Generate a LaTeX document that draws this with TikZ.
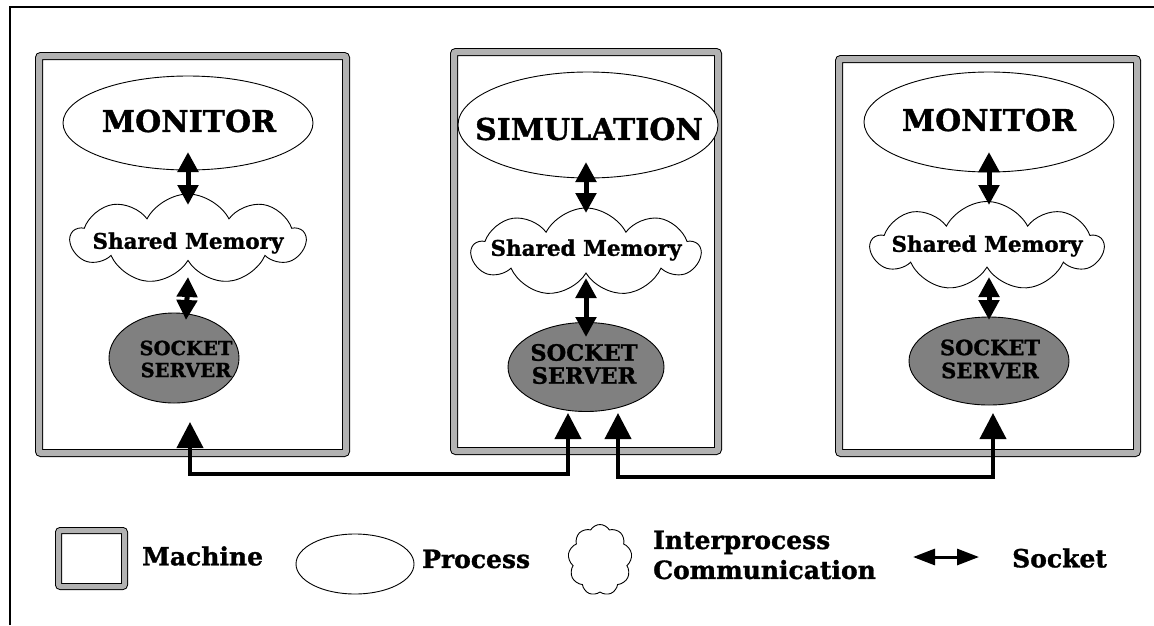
\documentclass[tikz,border=0pt]{standalone}
\usepackage{fontspec}
\setmainfont{DejaVu Serif}[BoldFeatures={FakeBold=1.2}]
\usetikzlibrary{shapes.geometric,shapes.symbols,arrows.meta,calc}

\begin{document}
\begin{tikzpicture}[x=1pt,y=-1pt,
  machine/.style={draw=black, line width=1pt, double=black!30, double distance=6pt,
    inner sep=0pt, outer sep=0pt, rounded corners=2pt},
  proc/.style={ellipse, draw=black, line width=0.9pt, fill=white, inner sep=0pt},
  ipc/.style={cloud, draw=black, line width=0.9pt, fill=white, cloud puffs=9,
    cloud puff arc=125, aspect=2.4, inner sep=0pt},
  sockproc/.style={ellipse, draw=black, line width=0.9pt, fill=black!50, inner sep=0pt},
  bigtxt/.style={font=\bfseries\fontsize{30}{34}\selectfont, inner sep=0pt},
  memtxt/.style={font=\bfseries\fontsize{21.5}{24}\selectfont, inner sep=0pt},
  socktxt/.style={font=\bfseries\fontsize{19.5}{22}\selectfont, align=center, inner sep=0pt},
  legtxt/.style={font=\bfseries\fontsize{25}{30}\selectfont, align=left, anchor=west, inner sep=0pt},
  link/.style={line width=5pt, {Triangle[length=20pt,width=20pt]}-{Triangle[length=20pt,width=20pt]}},
  net/.style={line width=4pt, line join=miter, {Triangle[length=26pt,width=26pt]}-{Triangle[length=26pt,width=26pt]}},
  legarrow/.style={line width=3pt, {Triangle[length=22pt,width=16pt]}-{Triangle[length=22pt,width=16pt]}},
]
\useasboundingbox (0,0) rectangle (1154,625);

% page frame (top and left rules)
\draw[line width=1.5pt] (10,625) -- (10,7) -- (1154,7);

% machines
\node[machine, minimum width=307pt, minimum height=397pt] (mach1) at (192.5,254.5) {};
\node[machine, minimum width=264pt, minimum height=399pt] (mach2) at (586,251.5) {};
\node[machine, minimum width=298pt, minimum height=394pt] (mach3) at (988,256) {};

% socket network below the machines
\coordinate (n1) at (190,474);
\coordinate (n2) at (568,474);
\coordinate (n3) at (618,477);
\coordinate (n4) at (993,477);
\coordinate (t1) at (190,422);
\coordinate (t2) at (568,413);
\coordinate (t3) at (618,413);
\coordinate (t4) at (993,413);
\draw[net] (t1) -- (n1) -- (n2) -- (t2);
\draw[net] (t3) -- (n3) -- (n4) -- (t4);

% machine 1
\node[proc, minimum width=250pt, minimum height=94pt] (mon1) at (188,123) {};
\node[bigtxt] (mon1l) at (189,121) {MONITOR};
\node[ipc, minimum width=234pt, minimum height=90pt] (mem1) at (188,239) {};
\node[memtxt] (mem1l) at (188,243) {Shared Memory};
\node[sockproc, minimum width=130pt, minimum height=90pt] (ss1) at (174,358) {};
\node[socktxt] (ss1l) at (186,359) {SOCKET\\SERVER};

% machine 2
\node[proc, minimum width=260pt, minimum height=106pt] (sim) at (588,125) {};
\node[bigtxt] (siml) at (589,129) {SIMULATION};
\node[ipc, minimum width=228pt, minimum height=88pt] (mem2) at (586,252) {};
\node[memtxt] (mem2l) at (586,250) {Shared Memory};
\node[sockproc, minimum width=156pt, minimum height=89pt] (ss2) at (586,367) {};
\node[socktxt, font=\bfseries\fontsize{22.5}{23}\selectfont] (ss2l) at (584,364) {SOCKET\\SERVER};

% machine 3
\node[proc, minimum width=250pt, minimum height=100pt] (mon3) at (989,122) {};
\node[bigtxt] (mon3l) at (989,120) {MONITOR};
\node[ipc, minimum width=232pt, minimum height=89pt] (mem3) at (987,246) {};
\node[memtxt] (mem3l) at (987,246) {Shared Memory};
\node[sockproc, minimum width=160pt, minimum height=88pt] (ss3) at (989,361) {};
\node[socktxt, font=\bfseries\fontsize{21}{23}\selectfont] (ss3l) at (990,359) {SOCKET\\SERVER};

% interprocess links
\draw[link] ($(mon1.center)+(0,29)$) -- ($(mem1.center)+(0,-34)$);
\draw[link] ($(mem1.center)+(0,38)$) -- ($(ss1l.center)+(0,-39)$);
\draw[link] ($(sim.center)+(-2,37)$) -- ($(mem2.center)+(0,-39)$);
\draw[link] ($(mem2.center)+(0,26)$) -- ($(ss2.center)+(0,-30)$);
\draw[link] ($(mon3.center)+(0,30)$) -- ($(mon3.center)+(0,83)$);
\draw[link] ($(mem3.center)+(2,31)$) -- ($(ss3.center)+(0,-41)$);

% legend
\node[machine, double distance=5pt, minimum width=66pt, minimum height=56pt] (legmach) at (91.5,558.5) {};
\node[legtxt] (legmachl) at (142,556) {Machine};
\node[proc, minimum width=118pt, minimum height=60pt] (legproc) at (355,564) {};
\node[legtxt] (legprocl) at (422,559) {Process};
\node[cloud, draw=black, line width=0.9pt, cloud puffs=9, cloud puff arc=120, aspect=0.9,
  inner sep=0pt, minimum width=64pt, minimum height=71pt] (legipc) at (600,560) {};
\node[legtxt] (legipcl) at (653,555) {Interprocess\\Communication};
\coordinate (la) at (913,557);
\coordinate (lb) at (979,557);
\draw[legarrow] (la) -- (lb);
\node[legtxt] (legsockl) at (1012,558) {Socket};
\end{tikzpicture}
\end{document}
